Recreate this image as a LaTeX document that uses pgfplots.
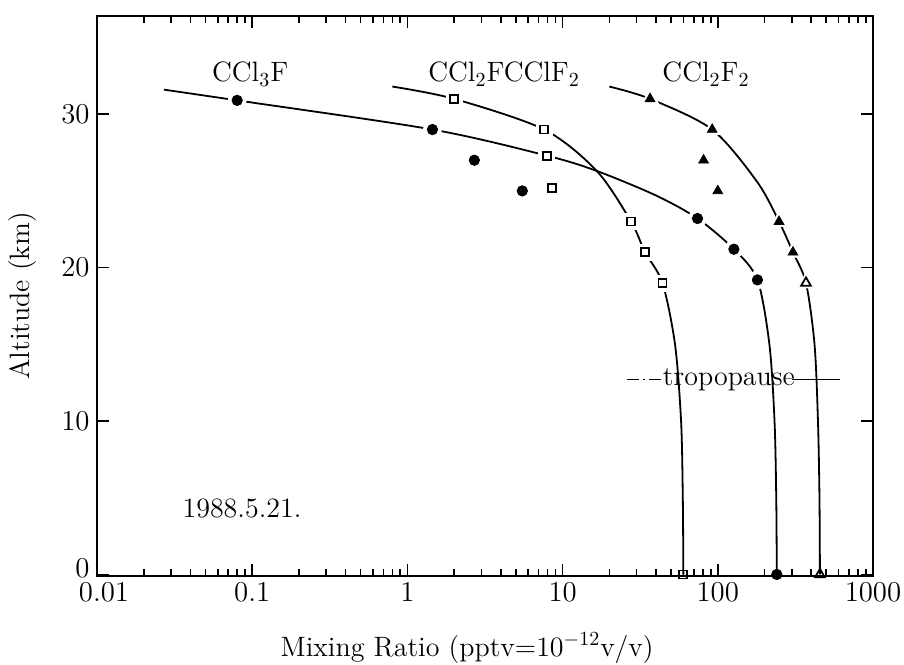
\documentclass[border=0pt]{standalone}
\usepackage{fontspec}
\usepackage{pgfplots}
\pgfplotsset{compat=1.18}
\begin{document}
\begin{tikzpicture}
\path[use as bounding box] (-48.5pt,-44pt) rectangle (403.5pt,288pt);
\begin{axis}[
  at={(0pt,0pt)}, anchor=south west,
  xmode=log, width=388pt, height=280pt, scale only axis,
  xmin=0.01, xmax=1000, ymin=-0.1, ymax=36.4,
  xtick={0.01,0.1,1,10,100,1000},
  xticklabels={\hphantom{$0$}$0.01$,$0.1$,$1$,$10$,$100$,$1000$},
  minor xtick={0.02,0.03,0.04,0.05,0.06,0.07,0.08,0.09,0.2,0.3,0.4,0.5,0.6,0.7,0.8,0.9,2,3,4,5,6,7,8,9,20,30,40,50,60,70,80,90,200,300,400,500,600,700,800,900},
  ytick={0,10,20,30},
  yticklabels={\raisebox{6pt}{$0$},$10$,$20$,$30$},
  tick align=inside, major tick length=6pt, minor tick length=3.5pt,
  axis line style={line width=1pt},
  every tick/.style={black, line width=0.8pt},
  ticklabel style={font=\fontsize{14}{16}\selectfont},
  yticklabel style={inner sep=1.5pt, xshift=-2pt},
  xlabel={\addfontfeature{LetterSpace=4}Mixing Ratio (pptv=10$^{-12}$v/v)},
  ylabel={\addfontfeature{LetterSpace=6}Altitude (km)},
  label style={font=\fontsize{14}{16}\selectfont},
  xlabel style={at={(axis description cs:0.477,0)}, anchor=center, yshift=-36pt},
  ylabel style={at={(axis description cs:0,0.5)}, anchor=center, rotate=0, yshift=37pt},
]
% curves
\addplot[black, line width=0.9pt, smooth, tension=0.5] coordinates {
 (0.027,31.6) (0.08,30.9) (1.45,29.0) (7.9,27.3) (16.6,26.3) (40,24.7) (74,23.2) (127,21.2) (180,19.2) (215,15) (232,10) (238,5) (240,0)};
\addplot[black, line width=0.9pt, smooth, tension=0.5] coordinates {
 (0.8,31.8) (2.0,31.0) (7.6,29.0) (16.6,26.3) (27.6,23.0) (34,21) (44,19) (53,15) (58,10) (59.5,5) (60,0)};
\addplot[black, line width=0.9pt, smooth, tension=0.5] coordinates {
 (20,31.8) (36.6,31.0) (92,29.0) (179,25.6) (248,23.0) (305,21.0) (370,19.0) (420,15) (442,10) (452,5) (455,0)};
% tropopause
\addplot[black, line width=0.8pt, dash pattern=on 6pt off 2pt on 1pt off 2pt] coordinates {(26,12.7) (45,12.7)};
\addplot[black, line width=0.8pt] coordinates {(300,12.7) (610,12.7)};
% halos
\addplot[only marks, mark=*, white, mark size=4.5pt] coordinates {(0.08,30.9) (1.45,29.0) (74,23.2) (127,21.2) (180,19.2)};
\addplot[only marks, mark=square*, white, mark size=4pt] coordinates {(2.0,31.0) (7.6,29.0) (7.9,27.3) (27.6,23.0) (34,21) (44,19)};
\addplot[only marks, mark=triangle*, white, mark size=5pt] coordinates {(36.6,31.0) (92,29.0) (248,23.0) (305,21.0) (370,19.0)};
% markers
\addplot[only marks, mark=*, black, mark size=2.6pt] coordinates {
 (0.08,30.9) (1.45,29.0) (2.7,27.0) (5.5,25.0) (74,23.2) (127,21.2) (180,19.2) (240,0)};
\addplot[only marks, mark=square, black, mark size=2pt, mark options={line width=0.9pt, fill=white}] coordinates {
 (2.0,31.0) (7.6,29.0) (7.9,27.3) (8.5,25.2) (27.6,23.0) (34,21) (44,19) (60,0)};
\addplot[only marks, mark=triangle*, black, mark size=2.8pt] coordinates {
 (36.6,31.0) (92,29.0) (81,27.0) (100,25.0) (248,23.0) (305,21.0)};
\addplot[only marks, mark=triangle, black, mark size=2.8pt, mark options={line width=0.9pt, fill=white}] coordinates {
 (370,19.0) (455,0)};
% annotations
\node[font=\fontsize{14}{16}\selectfont] at (axis cs:0.097,32.6) {CCl$_3$F};
\node[font=\fontsize{14}{16}\selectfont] at (axis cs:4.2,32.6) {CCl$_2$FCClF$_2$};
\node[font=\fontsize{14}{16}\selectfont] at (axis cs:84,32.6) {CCl$_2$F$_2$};
\node[font=\fontsize{14}{16}\selectfont] at (axis cs:0.086,4.3) {1988.5.21.};
\node[font=\fontsize{14}{16}\selectfont, inner sep=1pt] at (axis cs:118,12.7) {tropopause};
\end{axis}
\end{tikzpicture}
\end{document}
